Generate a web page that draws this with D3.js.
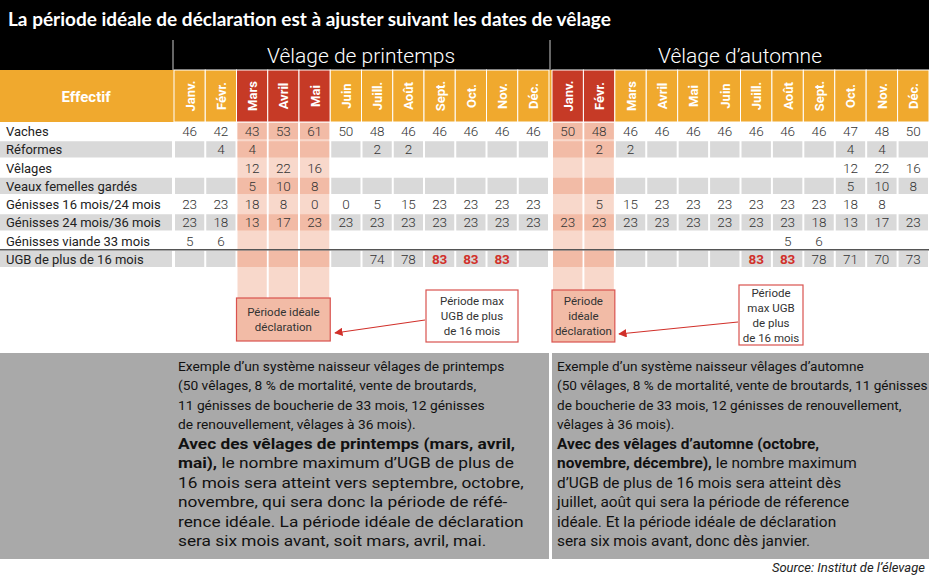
<!DOCTYPE html>
<html><head><meta charset="utf-8">
<script src="https://cdn.jsdelivr.net/npm/d3@7"></script>
<style>body{margin:0;background:#fff}svg{display:block;font-family:Roboto,sans-serif}</style>
</head><body><svg id="chart" width="929" height="576"></svg>
<script>
const months = ['Janv.', 'Févr.', 'Mars', 'Avril', 'Mai', 'Juin', 'Juill.', 'Août', 'Sept.', 'Oct.', 'Nov.', 'Déc.'];
const rowLabels = ['Vaches', 'Réformes', 'Vêlages', 'Veaux femelles gardés', 'Génisses 16 mois/24 mois',
  'Génisses 24 mois/36 mois', 'Génisses viande 33 mois', 'UGB de plus de 16 mois'];
const _ = null;
const springValues = [
  [46, 42, 43, 53, 61, 50, 48, 46, 46, 46, 46, 46],
  [_, 4, 4, _, _, _, 2, 2, _, _, _, _],
  [_, _, 12, 22, 16, _, _, _, _, _, _, _],
  [_, _, 5, 10, 8, _, _, _, _, _, _, _],
  [23, 23, 18, 8, 0, 0, 5, 15, 23, 23, 23, 23],
  [23, 18, 13, 17, 23, 23, 23, 23, 23, 23, 23, 23],
  [5, 6, _, _, _, _, _, _, _, _, _, _],
  [_, _, _, _, _, _, 74, 78, 83, 83, 83, _]
];
const autumnValues = [
  [50, 48, 46, 46, 46, 46, 46, 46, 46, 47, 48, 50],
  [_, 2, 2, _, _, _, _, _, _, 4, 4, _],
  [_, _, _, _, _, _, _, _, _, 12, 22, 16],
  [_, _, _, _, _, _, _, _, _, 5, 10, 8],
  [_, 5, 15, 23, 23, 23, 23, 23, 23, 18, 8, _],
  [23, 23, 23, 23, 23, 23, 23, 23, 18, 13, 17, 23],
  [_, _, _, _, _, _, _, 5, 6, _, _, _],
  [_, _, _, _, _, _, 83, 83, 78, 71, 70, 73]
];
const springIdeal = ['Mars', 'Avril', 'Mai'];
const springMax = ['Sept.', 'Oct.', 'Nov.'];
const autumnIdeal = ['Janv.', 'Févr.'];
const autumnMax = ['Juill.', 'Août'];
const grayRows = ['Réformes', 'Veaux femelles gardés', 'Génisses 24 mois/36 mois', 'UGB de plus de 16 mois'];

const title = "La période idéale de déclaration est à ajuster suivant les dates de vêlage";
const leftText1 = ["Exemple d’un système naisseur vêlages de printemps", "(50 vêlages, 8 % de mortalité, vente de broutards,",
  "11 génisses de boucherie de 33 mois, 12 génisses", "de renouvellement, vêlages à 36 mois)."];
const leftText2 = [[["Avec des vêlages de printemps (mars, avril,", true]], [["mai),", true], [" le nombre maximum d’UGB de plus de", false]],
  [["16 mois sera atteint vers septembre, octobre,", false]], [["novembre, qui sera donc la période de réfé-", false]],
  [["rence idéale. La période idéale de déclaration", false]], [["sera six mois avant, soit mars, avril, mai.", false]]];
const rightText1 = ["Exemple d’un système naisseur vêlages d’automne", "(50 vêlages, 8 % de mortalité, vente de broutards, 11 génisses",
  "de boucherie de 33 mois, 12 génisses de renouvellement,", "vêlages à 36 mois)."];
const rightText2 = [[["Avec des vêlages d’automne (octobre,", true]], [["novembre, décembre),", true], [" le nombre maximum", false]],
  [["d’UGB de plus de 16 mois sera atteint dès", false]], [["juillet, août qui sera la période de réference", false]],
  [["idéale. Et la période idéale de déclaration", false]], [["sera six mois avant, donc dès janvier.", false]]];

const svg = d3.select('#chart');
const W = 929;
const orange = '#f0a92e', red = '#c63a26', pink = '#f8d8cb', pinkDark = '#f2bba6', gray = '#d9d9d9';

const xSpring = d3.scaleBand().domain(months).range([174, 549]);
const xAutumn = d3.scaleBand().domain(months).range([552, 929]);
const y = d3.scaleBand().domain(rowLabels).range([122, 268]);

// header
svg.append('rect').attr('width', W).attr('height', 70).attr('fill', '#000');
svg.append('text').attr('x', 8).attr('y', 26).attr('fill', '#fff').attr('font-size', 19)
  .attr('font-weight', 700).attr('font-family', 'Lato, sans-serif').text(title);
[173, 550].forEach(x => svg.append('line').attr('x1', x).attr('x2', x).attr('y1', 40).attr('y2', 70)
  .attr('stroke', '#ccc').attr('stroke-width', 1));
svg.append('text').attr('x', 361).attr('y', 63).attr('text-anchor', 'middle').attr('fill', '#fff')
  .attr('font-size', 21).attr('font-weight', 300).text('Vêlage de printemps');
svg.append('text').attr('x', 740).attr('y', 63).attr('text-anchor', 'middle').attr('fill', '#fff')
  .attr('font-size', 21).attr('font-weight', 300).text('Vêlage d’automne');
svg.append('rect').attr('y', 70).attr('width', W).attr('height', 52).attr('fill', orange);
svg.append('text').attr('x', 86).attr('y', 102).attr('text-anchor', 'middle').attr('fill', '#fff')
  .attr('font-size', 15).attr('font-weight', 700).text('Effectif');

// label column gray bands
grayRows.forEach(r => svg.append('rect').attr('x', 0).attr('y', y(r) + 1).attr('width', 172)
  .attr('height', y.bandwidth() - 2).attr('fill', gray));

function drawSection(x, values, ideal, maxMonths) {
  const g = svg.append('g');
  // pink ideal columns
  ideal.forEach(m => g.append('rect').attr('x', x(m) + 1).attr('y', 122).attr('width', x.bandwidth() - 2)
    .attr('height', 176).attr('fill', pink));
  months.forEach(m => {
    const hi = ideal.includes(m);
    g.append('rect').attr('x', x(m)).attr('y', 70).attr('width', x.bandwidth()).attr('height', 52)
      .attr('fill', hi ? red : orange).attr('stroke', '#fff').attr('stroke-width', 1);
    const cx = x(m) + x.bandwidth() / 2;
    g.append('text').attr('transform', `translate(${cx + 5},96) rotate(-90)`).attr('text-anchor', 'middle')
      .attr('fill', '#fff').attr('font-size', 13).attr('font-weight', 700).text(m);
  });
  rowLabels.forEach((r, i) => {
    months.forEach((m, j) => {
      const hi = ideal.includes(m);
      const isGray = grayRows.includes(r);
      if (hi && (i === 0 || isGray)) {
        g.append('rect').attr('x', x(m) + 1).attr('y', y(r) + 1).attr('width', x.bandwidth() - 2)
          .attr('height', y.bandwidth() - 2).attr('fill', pinkDark);
      } else if (isGray && !hi) {
        g.append('rect').attr('x', x(m) + 1).attr('y', y(r) + 1).attr('width', x.bandwidth() - 2)
          .attr('height', y.bandwidth() - 2).attr('fill', gray);
      }
      const v = values[i][j];
      if (v !== null) {
        const isRed = i === rowLabels.length - 1 && maxMonths.includes(m);
        g.append('text').attr('x', x(m) + x.bandwidth() / 2).attr('y', y(r) + y.bandwidth() / 2 + 5)
          .attr('text-anchor', 'middle').attr('font-size', 13.5)
          .attr('fill', isRed ? '#d1302a' : '#333').attr('font-weight', isRed ? 700 : 300).text(v);
      }
    });
  });
}
drawSection(xSpring, springValues, springIdeal, springMax);
drawSection(xAutumn, autumnValues, autumnIdeal, autumnMax);

rowLabels.forEach(r => svg.append('text').attr('x', 6).attr('y', y(r) + y.bandwidth() / 2 + 5)
  .attr('font-size', 13).attr('font-weight', 400).attr('fill', '#222').text(r));

const lastRow = rowLabels[rowLabels.length - 1];
svg.append('line').attr('x1', 0).attr('x2', W).attr('y1', y(lastRow)).attr('y2', y(lastRow))
  .attr('stroke', '#555').attr('stroke-width', 1.5);

// callouts
svg.append('defs').append('marker').attr('id', 'arr').attr('viewBox', '0 0 10 10').attr('refX', 9).attr('refY', 5)
  .attr('markerWidth', 7).attr('markerHeight', 7).attr('orient', 'auto')
  .append('path').attr('d', 'M0,0L10,5L0,10z').attr('fill', '#d1302a');

function box(x0, x1, y0, y1, fill, lines) {
  svg.append('rect').attr('x', x0).attr('y', y0).attr('width', x1 - x0).attr('height', y1 - y0)
    .attr('fill', fill).attr('stroke', '#d9534f').attr('stroke-width', 1.2);
  const mid = (y0 + y1) / 2, lh = 15;
  lines.forEach((t, i) => svg.append('text').attr('x', (x0 + x1) / 2)
    .attr('y', mid + (i - (lines.length - 1) / 2) * lh + 4).attr('text-anchor', 'middle')
    .attr('font-size', 11.5).attr('fill', '#333').text(t));
}
const sxL = xSpring('Mars'), sxR = xSpring('Mai') + xSpring.bandwidth();
box(sxL, sxR, 298, 341, pinkDark, ['Période idéale', 'déclaration']);
box(426, 518, 290, 342, '#fff', ['Période max', 'UGB de plus', 'de 16 mois']);
const axL = xAutumn('Janv.'), axR = xAutumn('Févr.') + xAutumn.bandwidth();
box(axL, axR, 290, 342, pinkDark, ['Période', 'idéale', 'déclaration']);
box(739, 803, 285, 345, '#fff', ['Période', 'max UGB', 'de plus', 'de 16 mois']);
svg.append('line').attr('x1', 425).attr('y1', 320).attr('x2', 335).attr('y2', 333)
  .attr('stroke', '#d1302a').attr('stroke-width', 1.2).attr('marker-end', 'url(#arr)');
svg.append('line').attr('x1', 738).attr('y1', 322).attr('x2', 619).attr('y2', 334)
  .attr('stroke', '#d1302a').attr('stroke-width', 1.2).attr('marker-end', 'url(#arr)');

// bottom panel
svg.append('rect').attr('x', 0).attr('y', 353).attr('width', 549).attr('height', 206).attr('fill', '#a9a9a9');
svg.append('rect').attr('x', 552).attr('y', 353).attr('width', 377).attr('height', 206).attr('fill', '#a9a9a9');

function para(x, y0, lines, size, target) {
  const g = svg.append('g');
  lines.forEach((ln, i) => {
    const t = g.append('text').attr('x', 0).attr('y', i * 19.5).attr('font-size', size).attr('fill', '#111');
    const parts = Array.isArray(ln) ? ln : [[ln, false]];
    parts.forEach(([s, b]) => t.append('tspan').attr('font-weight', b ? 700 : 400).text(s));
  });
  const w = d3.max(g.selectAll('text').nodes(), n => n.getComputedTextLength());
  g.attr('transform', `translate(${x},${y0}) scale(${target / w},1)`);
}
para(178, 371, leftText1, 13, 327);
para(178, 449, leftText2, 15, 346);
para(557, 371, rightText1, 13, 371);
para(557, 449, rightText2, 15, 300);

svg.append('text').attr('x', 925).attr('y', 572).attr('text-anchor', 'end').attr('font-size', 13)
  .attr('font-style', 'italic').attr('fill', '#222').text('Source: Institut de l’élevage');
</script></body></html>
